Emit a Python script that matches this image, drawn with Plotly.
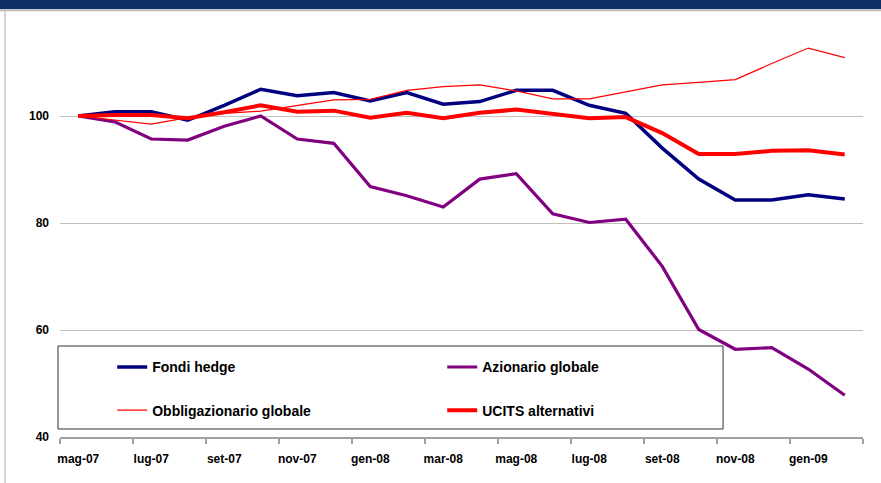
import plotly.graph_objects as go

# Monthly index values (May 2007 = 100)
months = ["mag-07", "giu-07", "lug-07", "ago-07", "set-07", "ott-07", "nov-07", "dic-07",
          "gen-08", "feb-08", "mar-08", "apr-08", "mag-08", "giu-08", "lug-08", "ago-08",
          "set-08", "ott-08", "nov-08", "dic-08", "gen-09", "feb-09"]

fondi_hedge = [100, 100.8, 100.8, 99.2, 102.0, 105.0, 103.8, 104.4, 102.8, 104.4, 102.2,
               102.7, 104.8, 104.8, 102.0, 100.5, 94.0, 88.2, 84.3, 84.3, 85.3, 84.5]
azionario = [100, 98.9, 95.7, 95.5, 98.1, 100.0, 95.7, 94.9, 86.8, 85.1, 83.0,
             88.2, 89.2, 81.7, 80.1, 80.7, 71.9, 60.1, 56.4, 56.7, 52.7, 47.8]
obbligazionario = [100, 99.2, 98.5, 99.7, 100.5, 100.9, 101.9, 103.0, 103.1, 104.8, 105.5,
                   105.8, 104.7, 103.2, 103.2, 104.5, 105.8, 106.3, 106.8, 109.8, 112.7, 110.9]
ucits = [100, 100.2, 100.2, 99.6, 100.7, 102.0, 100.8, 101.0, 99.7, 100.6, 99.6,
         100.6, 101.2, 100.4, 99.6, 99.8, 96.8, 92.9, 92.9, 93.5, 93.6, 92.8]

x = list(range(len(months)))

fig = go.Figure()
fig.add_trace(go.Scatter(x=x, y=fondi_hedge, name="Fondi hedge", mode="lines",
                         line=dict(color="#000080", width=3.5),
                         legend="legend", legendgroup="a"))
fig.add_trace(go.Scatter(x=x, y=azionario, name="Azionario globale", mode="lines",
                         line=dict(color="#800080", width=3.2),
                         legend="legend2", legendgroup="b"))
fig.add_trace(go.Scatter(x=x, y=obbligazionario, name="Obbligazionario globale", mode="lines",
                         line=dict(color="#FF0000", width=1.2),
                         legend="legend", legendgroup="c"))
fig.add_trace(go.Scatter(x=x, y=ucits, name="UCITS alternativi", mode="lines",
                         line=dict(color="#FF0000", width=4),
                         legend="legend2", legendgroup="d"))

legend_font = dict(family="Liberation Sans", size=14, color="#000000", weight="bold")
common_legend = dict(bgcolor="rgba(0,0,0,0)", borderwidth=0, font=legend_font,
                     traceorder="grouped", tracegroupgap=22,
                     yanchor="top", y=0.2, xanchor="left")

fig.update_layout(
    width=881, height=483,
    margin=dict(l=60, r=18, t=9, b=46),
    paper_bgcolor="white", plot_bgcolor="white",
    font=dict(family="Liberation Sans", size=12, color="#000000"),
    legend=dict(common_legend, x=0.065),
    legend2=dict(common_legend, x=0.476),
    xaxis=dict(
        range=[-0.5, 21.5], showgrid=False, zeroline=False,
        tickmode="array", tickvals=x[::2], ticktext=months[::2],
        ticks="", ticklabelstandoff=10,
        tickfont=dict(size=12, weight="bold"),
        showline=True, linecolor="#A0A0A0", linewidth=2,
        minor=dict(tickmode="array", tickvals=[i - 0.5 for i in range(0, 23, 2)],
                   ticks="outside", ticklen=5, tickcolor="#A0A0A0", tickwidth=2,
                   showgrid=False),
    ),
    yaxis=dict(
        range=[40, 120], tickvals=[40, 60, 80, 100],
        showgrid=True, gridcolor="#C0C0C0", gridwidth=1, zeroline=False,
        ticks="", ticklabelstandoff=10, showline=False,
        tickfont=dict(size=12, weight="bold"),
    ),
    shapes=[
        # legend frame
        dict(type="rect", xref="paper", yref="paper", x0=-0.0025, x1=0.8257,
             y0=0.0187, y1=0.2126, line=dict(color="#303030", width=1),
             fillcolor="white", layer="above"),
        # header band
        dict(type="rect", xref="paper", yref="paper", x0=-0.08, x1=1.03,
             y0=1.0, y1=1.03, line=dict(width=0), fillcolor="#0B2E66", layer="above"),
        dict(type="line", xref="paper", yref="paper", x0=-0.08, x1=1.03,
             y0=0.997, y1=0.997, line=dict(color="#B8B8B8", width=2), layer="above"),
        # left frame line
        dict(type="line", xref="paper", yref="paper", x0=-0.0685, x1=-0.0685,
             y0=-0.2, y1=0.995, line=dict(color="#D4D4D4", width=2), layer="above"),
    ],
)

fig.write_html("out.html", config={"displayModeBar": False},
               post_script="document.body.style.margin='0';")
